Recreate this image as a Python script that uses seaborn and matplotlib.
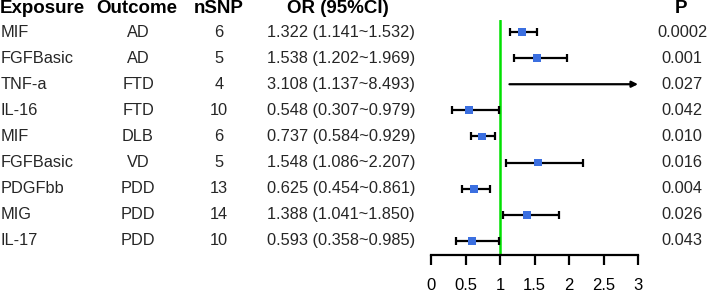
import matplotlib
matplotlib.use("Agg")
import matplotlib.pyplot as plt
import matplotlib.transforms as mtransforms
import seaborn as sns
import pandas as pd

exposure = ["MIF", "FGFBasic", "TNF-a", "IL-16", "MIF", "FGFBasic", "PDGFbb", "MIG", "IL-17"]
outcome = ["AD", "AD", "FTD", "FTD", "DLB", "VD", "PDD", "PDD", "PDD"]
nsnp = [6, 5, 4, 10, 6, 5, 13, 14, 10]
or_val = [1.322, 1.538, 3.108, 0.548, 0.737, 1.548, 0.625, 1.388, 0.593]
ci_low = [1.141, 1.202, 1.137, 0.307, 0.584, 1.086, 0.454, 1.041, 0.358]
ci_high = [1.532, 1.969, 8.493, 0.979, 0.929, 2.207, 0.861, 1.850, 0.985]
pvals = ["0.0002", "0.001", "0.027", "0.042", "0.010", "0.016", "0.004", "0.026", "0.043"]
xticks = [0, 0.5, 1, 1.5, 2, 2.5, 3]
xtick_labels = ["0", "0.5", "1", "1.5", "2", "2.5", "3"]

sns.set_theme(style="white")
plt.rcParams["font.family"] = ["Liberation Sans", "DejaVu Sans"]

df = pd.DataFrame({"row": range(len(exposure)), "or": or_val,
                   "lo": ci_low, "hi": ci_high})
xmax = 3.0

W, H = 708, 293
fig = plt.figure(figsize=(W / 100, H / 100), dpi=100)
ax = fig.add_axes([431 / W, 1 - 255 / H, 207 / W, 235 / H])
ax.set_xlim(0, xmax)
ax.set_ylim(8.54, -0.46)

ax.axvline(1, color="#00E000", lw=1.8, zorder=1)

inrange = df[df["hi"] <= xmax]
ax.errorbar(inrange["or"], inrange["row"],
            xerr=[inrange["or"] - inrange["lo"], inrange["hi"] - inrange["or"]],
            fmt="none", ecolor="black", elinewidth=1.6, capsize=3, capthick=1.6, zorder=2)
sns.scatterplot(data=inrange, x="or", y="row", marker="s", s=32, color="#3B6FE0",
                edgecolor="none", ax=ax, zorder=3, legend=False)

over = df[df["hi"] > xmax]
for _, r in over.iterrows():
    ax.annotate("", xy=(xmax, r["row"]), xytext=(r["lo"], r["row"]),
                arrowprops=dict(arrowstyle="-|>", color="black", lw=1.6,
                                mutation_scale=9, shrinkA=0, shrinkB=0),
                annotation_clip=False)

for s in ["top", "right", "left"]:
    ax.spines[s].set_visible(False)
ax.spines["bottom"].set_linewidth(1.6)
ax.spines["bottom"].set_color("black")
ax.set_xticks(xticks)
ax.set_xticklabels(xtick_labels)
ax.tick_params(axis="x", direction="out", length=7.5, width=1.6, colors="black",
               labelsize=12, pad=9, bottom=True)
ax.set_yticks([])
ax.set_xlabel("")
ax.set_ylabel("")

trans = mtransforms.blended_transform_factory(fig.transFigure, ax.transData)
fs = 11.8
hfs = 13.5
header_y = -0.9
cols = [(0 / W, "left", "Exposure"), (137 / W, "center", "Outcome"),
        (219 / W, "center", "nSNP"), (338 / W, "center", "OR (95%CI)"),
        (681 / W, "center", "P")]
for x, ha, t in cols:
    ax.text(x, header_y, t, transform=trans, ha=ha, va="center", fontsize=hfs,
            fontweight="bold", color="black", clip_on=False)

for i in range(len(exposure)):
    ax.text(1 / W, i, exposure[i], transform=trans, ha="left", va="center", fontsize=fs, clip_on=False)
    ax.text(138 / W, i, outcome[i], transform=trans, ha="center", va="center", fontsize=fs, clip_on=False)
    ax.text(219 / W, i, str(nsnp[i]), transform=trans, ha="center", va="center", fontsize=fs, clip_on=False)
    ax.text(341 / W, i, f"{or_val[i]:.3f} ({ci_low[i]:.3f}~{ci_high[i]:.3f})", transform=trans,
            ha="center", va="center", fontsize=fs, clip_on=False)
    ax.text(682 / W, i, pvals[i], transform=trans, ha="center", va="center", fontsize=fs, clip_on=False)

fig.savefig("out.png", dpi=100)
